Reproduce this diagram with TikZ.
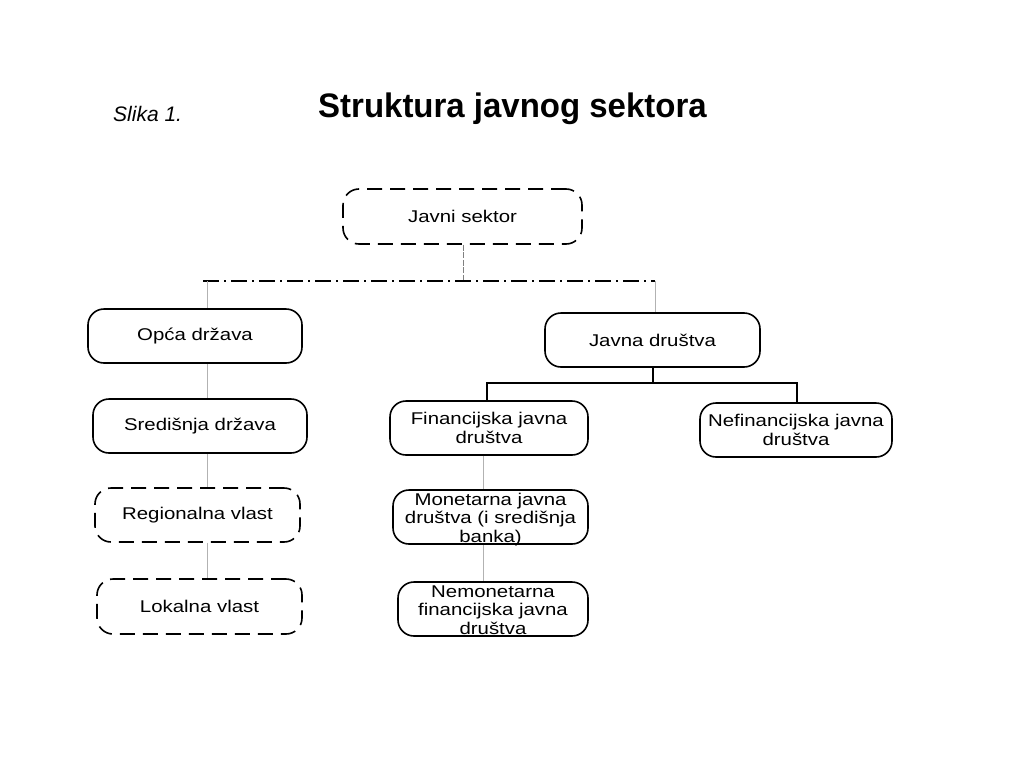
\documentclass[tikz,border=0pt]{standalone}
\usepackage{fontspec}
\setmainfont{Liberation Sans}
\newfontfamily\boxfont[FakeStretch=1.2]{Liberation Sans}
\newfontfamily\titlefont[FakeStretch=0.97]{Liberation Sans}
\begin{document}
\begin{tikzpicture}[x=1pt,y=-1pt,
  box/.style={draw=black, line width=1.6pt, rounded corners=16pt, align=center,
    font=\boxfont\fontsize{17}{18.5}\selectfont, inner sep=0pt},
  tallbox/.style={box, text height=50pt, text depth=0pt},
  dbox/.style={box, dash pattern=on 15pt off 8pt},
  thinline/.style={draw=gray!60, line width=0.8pt},
  treeline/.style={draw=black, line width=1.5pt},
  busline/.style={draw=black, line width=1.1pt, dash pattern=on 16pt off 5pt on 2pt off 5pt}]
\useasboundingbox (0,0) rectangle (1024,768);
\fill[white] (0,0) rectangle (1024,768);

\node[anchor=base west, inner sep=0pt, font=\itshape\fontsize{21}{23}\selectfont] (slika) at (113,121) {Slika 1.};
\node[anchor=base west, inner sep=0pt, font=\titlefont\bfseries\fontsize{34}{36}\selectfont] (title) at (318,117) {Struktura javnog sektora};

\node[dbox, minimum width=239, minimum height=55] (js) at (462.5,216.5) {Javni sektor};
\node[box, minimum width=214, minimum height=54] (op) at (195,336) {Opća država};
\node[box, minimum width=215, minimum height=54] (jd) at (652.5,340) {Javna društva};
\node[box, minimum width=214, minimum height=54] (sd) at (200,426) {Središnja država};
\node[box, minimum width=198, minimum height=54] (fj) at (489,428) {Financijska javna\\društva};
\node[box, minimum width=192, minimum height=54] (nf) at (796,430) {Nefinancijska javna\\društva};
\node[dbox, minimum width=205, minimum height=54] (rv) at (197.5,515) {Regionalna vlast};
\node[tallbox, minimum width=195, minimum height=54] (mj) at (490.5,517) {Monetarna javna\\društva (i središnja\\banka)};
\node[dbox, minimum width=205, minimum height=55] (lv) at (199.5,606.5) {Lokalna vlast};
\node[tallbox, minimum width=190, minimum height=54] (nm) at (493,609) {Nemonetarna\\financijska javna\\društva};

% bus from Javni sektor
\coordinate (busL) at (203,281);
\coordinate (busR) at (655,281);
\coordinate (busM) at (463,281);
\coordinate (colL) at (207,281);
\draw[draw=gray, line width=0.9pt, dash pattern=on 6pt off 1.5pt] (js.south -| busM) -- (busM);
\draw[busline] (busL) -- (busR);
\draw[thinline] (colL) -- (colL |- op.north);
\draw[thinline] (busR) -- (busR |- jd.north);

% left column
\draw[thinline] (colL |- op.south) -- (colL |- sd.north);
\draw[thinline] (colL |- sd.south) -- (colL |- rv.north);
\draw[thinline] (colL |- rv.south) -- (colL |- lv.north);

% middle column
\coordinate (colM) at (483,0);
\draw[thinline] (colM |- fj.south) -- (colM |- mj.north);
\draw[thinline] (colM |- mj.south) -- (colM |- nm.north);

% tree under Javna drustva
\coordinate (tj) at (653,383);
\coordinate (tl) at (487,383);
\coordinate (tr) at (797,383);
\draw[treeline] (jd.south -| tj) -- (tj);
\draw[treeline] (tl |- fj.north) -- (tl) -- (tr) -- (tr |- nf.north);
\end{tikzpicture}
\end{document}
